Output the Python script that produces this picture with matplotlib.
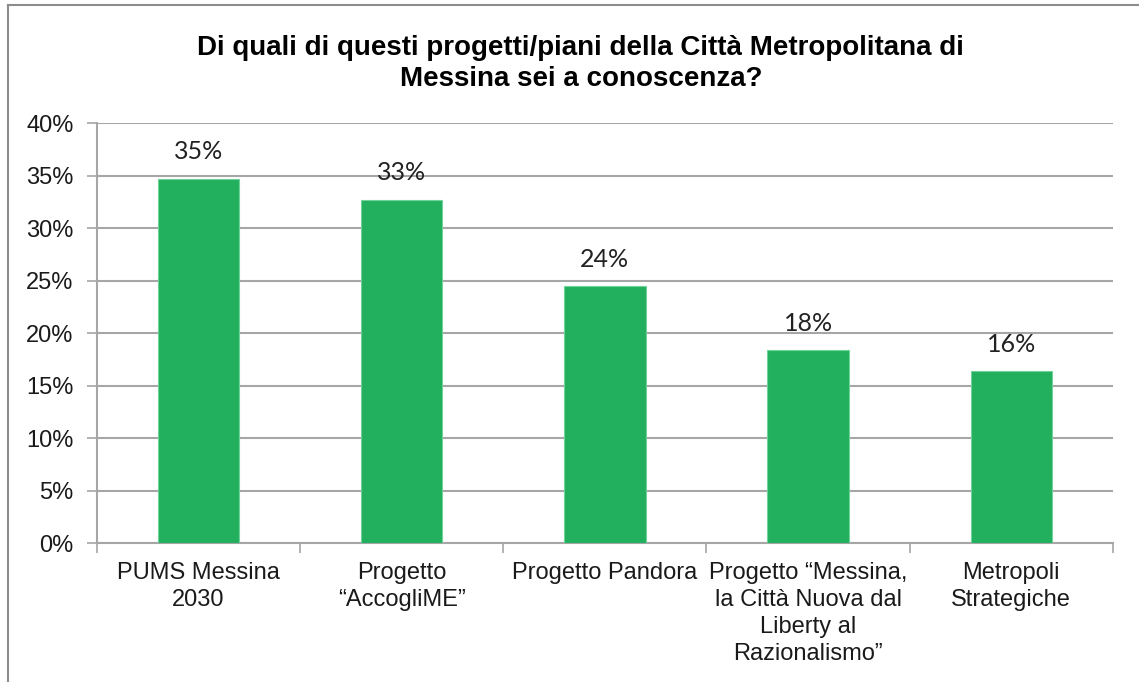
import matplotlib.pyplot as plt
from matplotlib.lines import Line2D

categories = [
    "PUMS Messina\n2030",
    "Progetto\n\u201cAccogliME\u201d",
    "Progetto Pandora",
    "Progetto \u201cMessina,\nla Citt\u00e0 Nuova dal\nLiberty al\nRazionalismo\u201d",
    "Metropoli\nStrategiche",
]
values = [34.7, 32.7, 24.5, 18.4, 16.4]
value_labels = ["35%", "33%", "24%", "18%", "16%"]
yticks = [0, 5, 10, 15, 20, 25, 30, 35, 40]

title = "Di quali di questi progetti/piani della Citt\u00e0 Metropolitana di\nMessina sei a conoscenza?"

bar_color = "#22b05e"
grid_color = "#a6a6a6"

fig = plt.figure(figsize=(11.39, 6.82), dpi=100)
ax = fig.add_axes([0.0852, 0.2034, 0.8918, 0.6162])

x = list(range(len(categories)))
ax.bar(x, values, width=0.4, color=bar_color, edgecolor="#6fd39a", linewidth=0.8, zorder=3)

for xi, v, lab in zip(x, values, value_labels):
    ax.annotate(lab, (xi, v), xytext=(0, 11), textcoords="offset points",
                ha="center", va="bottom", fontsize=18, family=["Lato", "DejaVu Sans"],
                color="#222222")

ax.set_xlim(-0.5, len(categories) - 0.5)
ax.set_ylim(0, 40)
ax.set_yticks(yticks)
ax.set_yticklabels([f"{t}%" for t in yticks], family="Liberation Sans", fontsize=17, color="#1a1a1a")
ax.yaxis.grid(True, color=grid_color, linewidth=1.5, zorder=0)
ax.tick_params(axis="y", length=7, width=1.2, color=grid_color, pad=10)

# category boundary ticks
ax.set_xticks([i - 0.5 for i in range(len(categories) + 1)])
ax.set_xticklabels([])
ax.tick_params(axis="x", length=7, width=1.2, color=grid_color)
for xi, lab in zip(x, categories):
    ax.text(xi, -1.8, lab, ha="center", va="top", fontsize=17, family="Liberation Sans",
            color="#1a1a1a", linespacing=1.3)

for side in ["top", "right"]:
    ax.spines[side].set_visible(False)
for side in ["left", "bottom"]:
    ax.spines[side].set_color(grid_color)
    ax.spines[side].set_linewidth(1.5)

fig.text(0.51, 0.907, title, ha="center", va="center", fontsize=20, fontweight="bold",
         family="Liberation Sans", linespacing=1.25, color="black")

# outer chart border (top and left only visible)
fig.add_artist(Line2D([8 / 1139, 1.0], [1 - 5 / 682, 1 - 5 / 682], transform=fig.transFigure,
                      color="#8c8c8c", linewidth=1.5))
fig.add_artist(Line2D([8 / 1139, 8 / 1139], [0, 1 - 5 / 682], transform=fig.transFigure,
                      color="#8c8c8c", linewidth=1.5))

fig.savefig("out.png", dpi=100)
